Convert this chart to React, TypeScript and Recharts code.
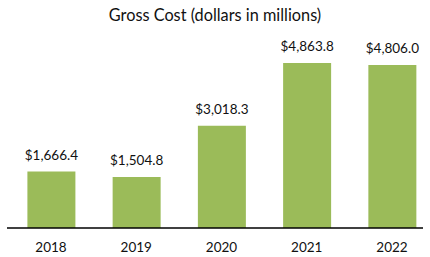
import { BarChart, Bar, XAxis, YAxis, LabelList } from 'recharts';

const years = ['2018', '2019', '2020', '2021', '2022'];
const grossCost = [1666.4, 1504.8, 3018.3, 4863.8, 4806.0];

const data = years.map((year, i) => ({ year, cost: grossCost[i] }));

const FONT = 'Lato, "Open Sans", sans-serif';

const fmt = (v: any) =>
  '$' + Number(v).toLocaleString('en-US', { minimumFractionDigits: 1, maximumFractionDigits: 1 });

export default function App() {
  return (
    <div
      style={{
        position: 'fixed',
        top: 0,
        left: 0,
        width: 430,
        height: 257,
        overflow: 'hidden',
        background: '#fff',
        fontFamily: FONT,
      }}
    >
      <div
        style={{
          position: 'absolute',
          top: 5,
          left: 0,
          width: 430,
          textAlign: 'center',
          fontSize: 16.3,
          color: '#111',
          zIndex: 1,
        }}
      >
        Gross Cost (dollars in millions)
      </div>
      <BarChart
        width={430}
        height={257}
        data={data}
        margin={{ top: 58.5, right: 7, bottom: 7, left: 7 }}
      >
        <XAxis
          dataKey="year"
          height={22}
          padding={{ left: 1.4, right: -11.6 }}
          axisLine={{ stroke: '#000', strokeWidth: 1.5 }}
          tickLine={false}
          tickMargin={8}
          tick={{ fill: '#111', fontSize: 13.5, fontFamily: FONT }}
        />
        <YAxis hide domain={[0, 5000]} />
        <Bar dataKey="cost" fill="#9BBB59" barSize={48} isAnimationActive={false}>
          <LabelList
            dataKey="cost"
            position="top"
            offset={12}
            formatter={fmt}
            style={{ fill: '#111', fontSize: 13.5, fontFamily: FONT }}
          />
        </Bar>
      </BarChart>
    </div>
  );
}
